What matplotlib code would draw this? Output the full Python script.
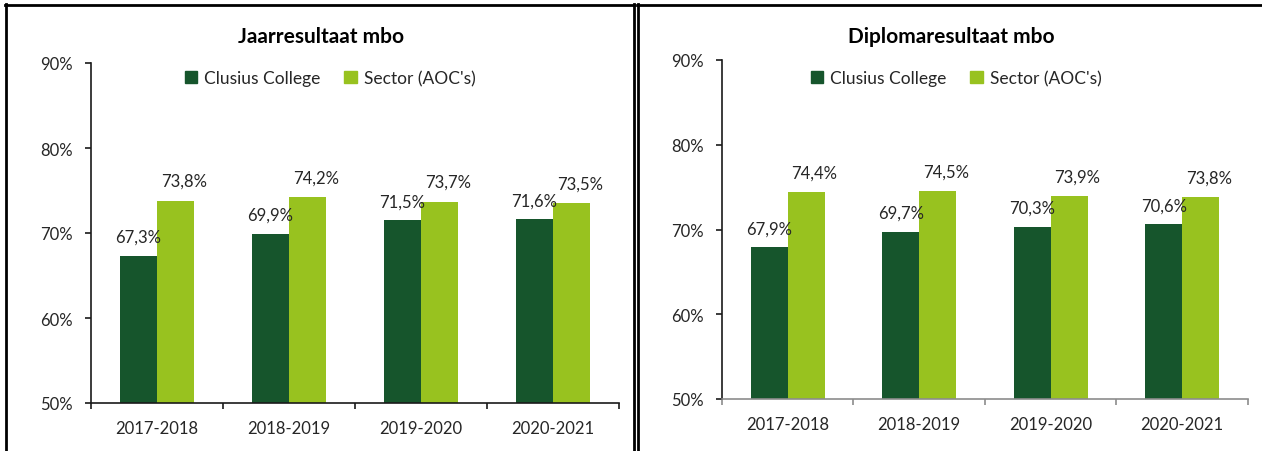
import matplotlib
matplotlib.use("Agg")
import matplotlib.pyplot as plt
from matplotlib.lines import Line2D
from matplotlib.patches import Patch
import numpy as np

plt.rcParams['font.family'] = ['Lato', 'DejaVu Sans']

categories = ["2017-2018", "2018-2019", "2019-2020", "2020-2021"]
series_names = ["Clusius College", "Sector (AOC's)"]
jaar_clusius = [67.3, 69.9, 71.5, 71.6]
jaar_sector = [73.8, 74.2, 73.7, 73.5]
diploma_clusius = [67.9, 69.7, 70.3, 70.6]
diploma_sector = [74.4, 74.5, 73.9, 73.8]
titles = ["Jaarresultaat mbo", "Diplomaresultaat mbo"]
yticks = [50, 60, 70, 80, 90]

dark = "#16552C"
light = "#98C21F"
txt = "#262626"

W, H = 1262, 452
fig = plt.figure(figsize=(W / 100, H / 100), dpi=100)

def px(x0, y0, x1, y1):
    return [x0 / W, 1 - y1 / H, (x1 - x0) / W, (y1 - y0) / H]

# (axes box, title centre (x, y) px, legend centre (x, y) px)
layouts = [(px(91, 64, 619, 404), (321, 37), (330, 79)),
           (px(722, 61, 1248, 400), (951, 37), (956, 79))]
xaxis_colors = ["#1a1a1a", "#8c8c8c"]
datasets = [(jaar_clusius, jaar_sector), (diploma_clusius, diploma_sector)]

bw = 0.28
for i, ((box, tpos, lpos), (c1, c2)) in enumerate(zip(layouts, datasets)):
    ax = fig.add_axes(box)
    x = np.arange(len(categories))
    ax.bar(x - bw / 2, c1, width=bw, color=dark, zorder=2)
    ax.bar(x + bw / 2, c2, width=bw, color=light, zorder=2)
    ax.set_ylim(50, 90)
    ax.set_xlim(-0.5, len(categories) - 0.5)
    ax.set_yticks(yticks)
    ax.set_yticklabels([f"{v}%" for v in yticks])
    ax.set_xticks(x)
    ax.set_xticklabels(categories)
    ax.set_xticks(np.arange(-0.5, len(categories)), minor=True)
    ax.tick_params(axis='x', which='major', length=0, pad=12, labelsize=12, colors=txt)
    ax.tick_params(axis='x', which='minor', length=4.3, width=1.2, color=xaxis_colors[i])
    ax.tick_params(axis='y', length=4.3, width=1.2, color="#1a1a1a", labelsize=12, labelcolor=txt, pad=8.5)
    for s in ["top", "right"]:
        ax.spines[s].set_visible(False)
    ax.spines["left"].set_color("#1a1a1a")
    ax.spines["left"].set_linewidth(1.2)
    ax.spines["bottom"].set_color(xaxis_colors[i])
    ax.spines["bottom"].set_linewidth(1.2)
    for xi, v in zip(x, c1):
        ax.annotate(f"{v:.1f}%".replace(".", ","), (xi - bw / 2, v), xytext=(0, 13.7),
                    textcoords="offset points", ha="center", va="center",
                    fontsize=12, color=txt)
    for xi, v in zip(x, c2):
        ax.annotate(f"{v:.1f}%".replace(".", ","), (xi + bw / 2, v), xytext=(6, 14.4),
                    textcoords="offset points", ha="center", va="center",
                    fontsize=12, color=txt)
    fig.text(tpos[0] / W, 1 - tpos[1] / H, titles[i], ha="center", va="center",
             fontsize=15, fontweight="bold", color="black")
    handles = [Patch(color=dark), Patch(color=light)]
    ax.legend(handles, series_names, loc="center",
              bbox_to_anchor=(lpos[0] / W, 1 - lpos[1] / H), bbox_transform=fig.transFigure,
              ncol=2, frameon=False, fontsize=12.5, handlelength=0.7, handleheight=0.7,
              handletextpad=0.4, columnspacing=1.4, labelcolor=txt)

# panel borders
lw = 2
fig.add_artist(Line2D([5 / W, 634 / W], [1 - 6 / H, 1 - 6 / H], color="black", lw=lw))
fig.add_artist(Line2D([6 / W, 6 / W], [0, 1 - 5 / H], color="black", lw=lw))
fig.add_artist(Line2D([633.5 / W, 633.5 / W], [0, 1 - 5 / H], color="black", lw=lw))
fig.add_artist(Line2D([637.5 / W, 637.5 / W], [0, 1 - 5 / H], color="black", lw=lw))
fig.add_artist(Line2D([637 / W, 1 + 0.01], [1 - 6 / H, 1 - 6 / H], color="black", lw=lw))

fig.savefig("out.png", dpi=100)
